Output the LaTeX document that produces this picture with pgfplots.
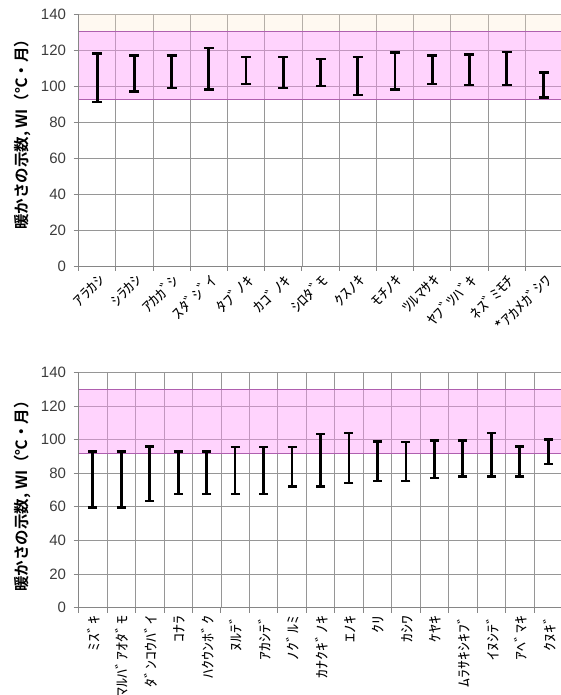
\documentclass[border=0pt]{standalone}
\usepackage{pgfplots}
\usepackage{pgfplotstable}
\pgfplotsset{compat=1.18}
\usepackage{fontspec}
\setmainfont{Liberation Sans}
\newfontfamily\jp{Noto Sans CJK JP}[BoldFont={Noto Sans CJK JP Bold}]
\newfontfamily\jpw{Noto Sans CJK JP}[FakeStretch=1.25]

\definecolor{gridc}{RGB}{150,150,150}
\definecolor{axc}{RGB}{134,134,134}
\definecolor{bandc}{RGB}{255,150,250}
\definecolor{bandline}{RGB}{175,95,175}
\definecolor{cream}{RGB}{255,235,210}
\definecolor{tickc}{RGB}{60,60,60}

\pgfplotstableread{
x lo hi
1 91 118
2 97 117
3 99 117
4 98 121
5 101 116
6 99 116
7 100 115
8 95 116
9 98 118.5
10 101 117
11 100.5 117.5
12 100.5 119
13 93.5 107.5
}\toptab

\pgfplotstableread{
x lo hi
1 59.5 93
2 59.5 93
3 63.5 96
4 67.5 93
5 67.5 93
6 67.5 95.5
7 67.5 95.5
8 72 95.5
9 72 103.5
10 74 104
11 75.5 99
12 75.5 98.5
13 77 99.5
14 78 99.5
15 78 104
16 78 96
17 85.5 100
}\bottab

\pgfplotsset{
  mychart/.style={
    scale only axis, width=484pt, xmin=0.5,
    ymin=0, ymax=140, ytick={0,20,...,140},
    axis x line*=bottom, axis y line*=left,
    axis line style={axc, line width=0.8pt},
    ymajorgrids, xminorgrids,
    major grid style={gridc, line width=0.7pt},
    minor grid style={gridc, line width=0.7pt},
    tick align=outside,
    major tick length=5pt, minor tick length=5pt,
    tick style={axc, line width=0.8pt},
    every major x tick/.style={draw=none},
    /pgf/number format/assume math mode=true,
    yticklabel style={font=\fontsize{15}{16}\selectfont, text=tickc, xshift=-4pt},
    ylabel style={font=\jp\bfseries\fontsize{15.5}{16}\selectfont, anchor=center},
    ylabel={暖かさの示数, WI（℃・月）},
  },
  ebar/.style={no markers, mark size=0pt, draw=none,
    error bars/.cd, y dir=both, y explicit, error mark=|,
    error bar style={draw=black, line width=2.8pt},
    error mark options={draw=black, line width=2.4pt, mark size=#1}},
}

\begin{document}
\begin{tikzpicture}
\path[use as bounding box] (0,0) rectangle (561pt,695pt);

% ---------- top chart ----------
\begin{axis}[mychart,
  at={(78.5pt,429pt)}, anchor=south west, height=252pt,
  xmax=13.5,
  xtick={1,...,13},
  minor xtick={0.5,1.5,...,13.5},
  xticklabels={ｱﾗｶｼ,ｼﾗｶｼ,ｱｶｶﾞｼ,ｽﾀﾞｼﾞｲ,ﾀﾌﾞﾉｷ,ｶｺﾞﾉｷ,ｼﾛﾀﾞﾓ,ｸｽﾉｷ,ﾓﾁﾉｷ,ﾂﾙﾏｻｷ,ﾔﾌﾞﾂﾊﾞｷ,ﾈｽﾞﾐﾓﾁ,*ｱｶﾒｶﾞｼﾜ},
  xticklabel style={font=\jpw\fontsize{14.5}{15}\selectfont, rotate=45, anchor=east, yshift=-8pt, xshift=2pt},
  ylabel style={at={(axis description cs:-0.116,0.537)}},
]
\addplot[draw=none, fill=cream, fill opacity=0.3] coordinates {(0.5,130) (13.5,130) (13.5,140) (0.5,140)} -- cycle;
\addplot[draw=none, fill=bandc, fill opacity=0.42] coordinates {(0.5,92.5) (13.5,92.5) (13.5,130) (0.5,130)} -- cycle;
\addplot[bandline, line width=1pt] coordinates {(0.5,130) (13.5,130)};
\addplot[bandline, line width=1pt] coordinates {(0.5,92.5) (13.5,92.5)};
\addplot[ebar=5pt] table[x=x, y expr={(\thisrow{lo}+\thisrow{hi})/2}, y error expr={(\thisrow{hi}-\thisrow{lo})/2}] {\toptab};
\end{axis}

% ---------- bottom chart ----------
\begin{axis}[mychart,
  at={(78.5pt,87.5pt)}, anchor=south west, height=235pt,
  xmax=17.5,
  xtick={1,...,17},
  minor xtick={0.5,1.5,...,17.5},
  xticklabels={ﾐｽﾞｷ,ﾏﾙﾊﾞｱｵﾀﾞﾓ,ﾀﾞﾝｺｳﾊﾞｲ,ｺﾅﾗ,ﾊｸｳﾝﾎﾞｸ,ﾇﾙﾃﾞ,ｱｶｼﾃﾞ,ﾉｸﾞﾙﾐ,ｶﾅｸｷﾞﾉｷ,ｴﾉｷ,ｸﾘ,ｶｼﾜ,ｹﾔｷ,ﾑﾗｻｷｼｷﾌﾞ,ｲﾇｼﾃﾞ,ｱﾍﾞﾏｷ,ｸﾇｷﾞ},
  xticklabel style={font=\jpw\fontsize{14.3}{15}\selectfont, rotate=90, anchor=east, yshift=-1pt},
  ylabel style={at={(axis description cs:-0.116,0.49)}},
]
\addplot[draw=none, fill=bandc, fill opacity=0.42] coordinates {(0.5,92) (17.5,92) (17.5,130) (0.5,130)} -- cycle;
\addplot[bandline, line width=1pt] coordinates {(0.5,130) (17.5,130)};
\addplot[bandline, line width=1pt] coordinates {(0.5,92) (17.5,92)};
\addplot[ebar=4.5pt] table[x=x, y expr={(\thisrow{lo}+\thisrow{hi})/2}, y error expr={(\thisrow{hi}-\thisrow{lo})/2}] {\bottab};
\end{axis}
\end{tikzpicture}
\end{document}
